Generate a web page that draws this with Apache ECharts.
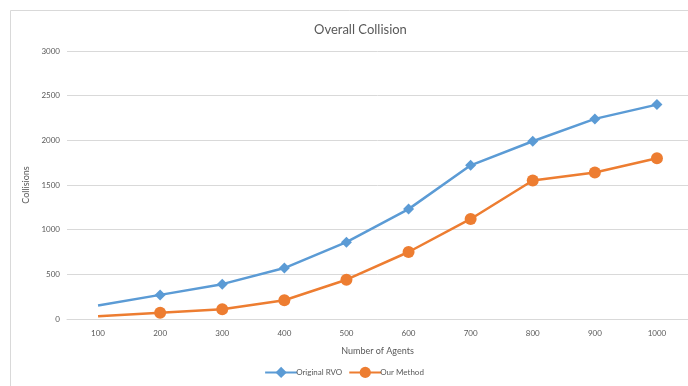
<!DOCTYPE html>
<html>
<head>
<meta charset="utf-8">
<script src="https://cdn.jsdelivr.net/npm/echarts@6/dist/echarts.min.js"></script>
<style>
  html, body { margin: 0; padding: 0; background: #fff; }
  #chart { width: 688px; height: 386px; }
</style>
</head>
<body>
<div id="chart"></div>
<script>
// Number of agents (category axis)
const agents = ['100', '200', '300', '400', '500', '600', '700', '800', '900', '1000'];
// Collision counts per method
const originalRvo = [150, 270, 390, 570, 860, 1230, 1720, 1990, 2240, 2400];
const ourMethod = [30, 70, 110, 210, 440, 750, 1120, 1550, 1640, 1800];
// Value-axis ticks
const yTicks = [0, 500, 1000, 1500, 2000, 2500, 3000];

const font = 'Lato, "Open Sans", sans-serif';
const textColor = '#595959';

// The first point of each series is drawn without a marker
function withMarkers(values) {
  return values.map((v, i) => i === 0 ? { value: v, symbol: 'none' } : v);
}

const chart = echarts.init(document.getElementById('chart'), null, { renderer: 'canvas' });
chart.setOption({
  animation: false,
  backgroundColor: '#fff',
  graphic: [{
    type: 'rect',
    shape: { x: 10.5, y: 10.5, width: 700, height: 400 },
    style: { fill: 'none', stroke: '#d9d9d9', lineWidth: 1 },
    silent: true,
    z: -1
  }],
  title: {
    text: 'Overall Collision',
    left: 309,
    top: 18,
    textStyle: { fontFamily: font, fontSize: 13, fontWeight: 'normal', color: textColor }
  },
  legend: {
    bottom: 3,
    left: 'center',
    itemWidth: 32,
    itemHeight: 14,
    itemGap: 6,
    textStyle: { fontFamily: font, fontSize: 8, color: textColor, padding: [0, 0, 0, -6] },
    data: ['Original RVO', 'Our Method']
  },
  grid: { left: 67, right: -1, top: 51, bottom: 67 },
  xAxis: {
    type: 'category',
    data: agents,
    boundaryGap: true,
    name: 'Number of Agents',
    nameLocation: 'middle',
    nameGap: 28,
    nameTextStyle: { fontFamily: font, fontSize: 9, color: textColor },
    axisLine: { show: true, lineStyle: { color: '#d9d9d9', width: 1 } },
    axisTick: { show: false },
    axisLabel: { fontFamily: font, fontSize: 8, color: textColor, margin: 10 }
  },
  yAxis: {
    type: 'value',
    min: yTicks[0],
    max: yTicks[yTicks.length - 1],
    interval: 500,
    name: 'Collisions',
    nameLocation: 'middle',
    nameGap: 27,
    nameTextStyle: { fontFamily: font, fontSize: 9, color: textColor },
    axisLine: { show: false },
    axisTick: { show: false },
    axisLabel: { fontFamily: font, fontSize: 8, color: textColor, margin: 7, formatter: v => String(v) },
    splitLine: { lineStyle: { color: '#d9d9d9', width: 1 } }
  },
  series: [
    {
      name: 'Original RVO',
      type: 'line',
      data: withMarkers(originalRvo),
      symbol: 'diamond',
      symbolSize: 11,
      showAllSymbol: true,
      itemStyle: { color: '#5b9bd5' },
      lineStyle: { color: '#5b9bd5', width: 2.5 }
    },
    {
      name: 'Our Method',
      type: 'line',
      data: withMarkers(ourMethod),
      symbol: 'circle',
      symbolSize: 12,
      showAllSymbol: true,
      itemStyle: { color: '#ed7d31' },
      lineStyle: { color: '#ed7d31', width: 2.5 }
    }
  ]
});
</script>
</body>
</html>
